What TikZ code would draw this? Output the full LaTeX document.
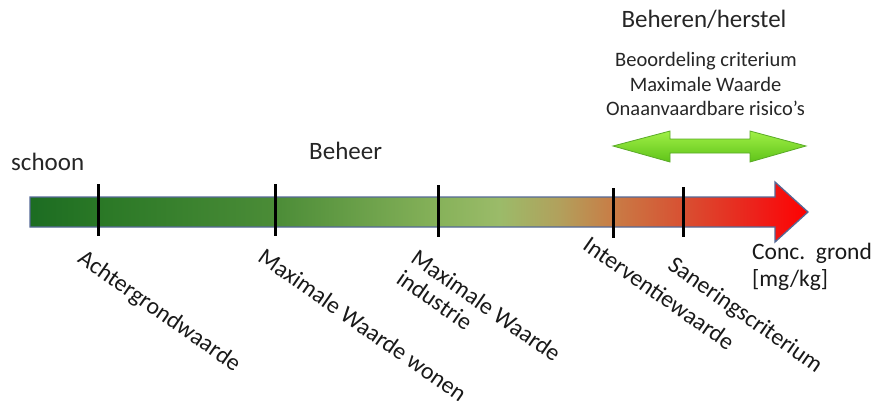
\documentclass[tikz,border=0pt]{standalone}
\usepackage{fontspec}
\setmainfont{Carlito}
\begin{document}
\begin{tikzpicture}[x=1pt,y=-1pt,
  tick/.style={line width=3pt,black},
  bigtxt/.style={font=\fontsize{25}{30}\selectfont,inner sep=0pt,text=black!85},
  midtxt/.style={font=\fontsize{20.5}{24.5}\selectfont,inner sep=0pt,text=black!85},
  rottxt/.style={font=\fontsize{23.8}{25}\selectfont,inner sep=0pt,anchor=north west,rotate=-35,align=left,text=black!90},
]
\definecolor{g0}{RGB}{28,108,34}
\definecolor{g1}{RGB}{42,120,38}
\definecolor{g2}{RGB}{75,140,55}
\definecolor{g3}{RGB}{135,178,90}
\definecolor{g4}{RGB}{155,187,105}
\definecolor{t1}{RGB}{178,160,92}
\definecolor{o1}{RGB}{200,125,70}
\definecolor{r1}{RGB}{216,80,50}
\definecolor{r2}{RGB}{238,30,25}
\definecolor{r3}{RGB}{255,0,0}
\definecolor{barline}{RGB}{85,105,150}
\definecolor{lgtop}{RGB}{160,240,70}
\definecolor{lgbot}{RGB}{95,195,25}
\definecolor{lgline}{RGB}{90,170,40}
\useasboundingbox (0,0) rectangle (873,400);

% concentration axis: gradient arrow
\begin{scope}
  \clip (30,197) -- (775,197) -- (775,182) -- (808,212) -- (775,242) -- (775,227) -- (30,227) -- cycle;
  \shade[left color=g0,right color=g1] (29,180) rectangle (100,245);
  \shade[left color=g1,right color=g2] (99.5,180) rectangle (275,245);
  \shade[left color=g2,right color=g3] (274.5,180) rectangle (440,245);
  \shade[left color=g3,right color=g4] (439.5,180) rectangle (500,245);
  \shade[left color=g4,right color=t1] (499.5,180) rectangle (560,245);
  \shade[left color=t1,right color=o1] (559.5,180) rectangle (612,245);
  \shade[left color=o1,right color=r1] (611.5,180) rectangle (683,245);
  \shade[left color=r1,right color=r2] (682.5,180) rectangle (760,245);
  \shade[left color=r2,right color=r3] (759.5,180) rectangle (810,245);
\end{scope}
\draw[barline,line width=1.3pt,line join=miter]
  (30,197) -- (775,197) -- (775,182) -- (808,212) -- (775,242) -- (775,227) -- (30,227) -- cycle;

% threshold ticks
\draw[tick] (98,184) -- (98,236);
\draw[tick] (275,184) -- (275,236);
\draw[tick] (438,185) -- (438,237);
\draw[tick] (613,188) -- (613,238);
\draw[tick] (683,187) -- (683,237);

% range of the remediation criterion
\shade[top color=lgtop,bottom color=lgbot,draw=lgline,line width=0.8pt]
  (613,146) -- (670,131) -- (670,139) -- (750,139) -- (750,131) -- (806,146)
  -- (750,162) -- (750,153) -- (670,153) -- (670,162) -- cycle;

% labels
\node[bigtxt,anchor=base west] (schoon) at (11,170) {schoon};
\node[bigtxt,anchor=base west] (beheer) at (309,159) {Beheer};
\node[bigtxt,anchor=base] (herstel) at (704,27) {Beheren/herstel};
\node[midtxt,anchor=base] (crit1) at (706,66) {Beoordeling criterium};
\node[midtxt,anchor=base] (crit2) at (705.5,91) {Maximale Waarde};
\node[midtxt,anchor=base] (crit3) at (705.5,115) {Onaanvaardbare risico’s};

\node[rottxt] (achter) at (86,248) {Achtergrondwaarde};
\node[rottxt] (wonen) at (266,247) {Maximale Waarde wonen};
\node[rottxt] (industrie) at (419,248) {Maximale Waarde\\industrie};
\node[rottxt] (interventie) at (591,235) {Interventiewaarde};
\node[rottxt] (sanering) at (676,255) {Saneringscriterium};

\node[font=\fontsize{23.5}{27}\selectfont,inner sep=0pt,anchor=north west,align=left,text=black!90]
  (conc) at (752,243) {Conc.\ \ grond\\{[mg/kg]}};
\end{tikzpicture}
\end{document}
